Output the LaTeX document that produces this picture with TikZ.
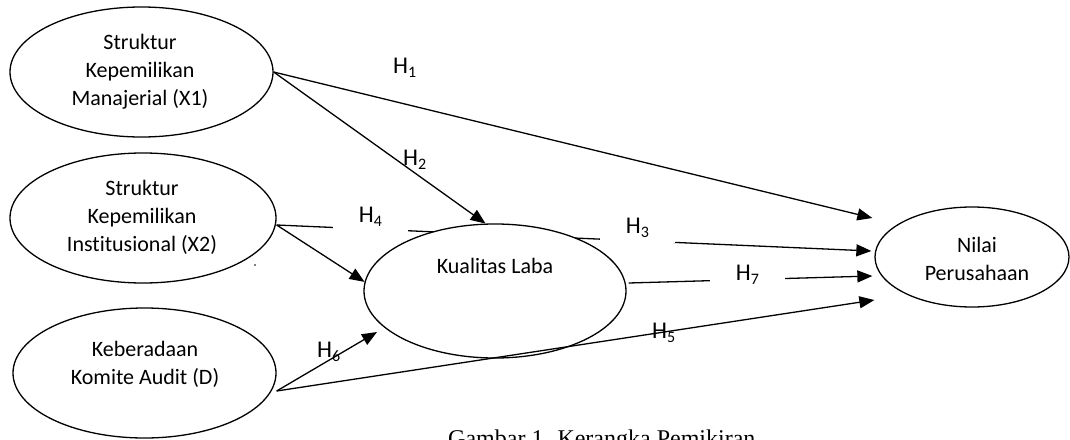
\documentclass[tikz,border=0pt]{standalone}
\usepackage{fontspec}
\setmainfont{Carlito}[Ligatures=NoCommon]
\newfontfamily\capfont{Liberation Serif}
\usetikzlibrary{shapes.geometric,arrows.meta}
\newcommand\hlab[1]{H\raisebox{-4pt}{\fontsize{16}{16}\selectfont #1}}
\tikzset{
  oval/.style={ellipse, draw, line width=1.3pt, inner sep=0pt},
  otext/.style={align=center, inner sep=0pt, font=\fontsize{22}{28}\selectfont},
  arr/.style={line width=1.3pt, -{Triangle[length=15pt,width=12pt]}},
  hl/.style={inner sep=0pt, font=\fontsize{24}{28}\selectfont},
  hlw/.style={fill=white, inner xsep=0pt, inner ysep=6pt, minimum width=75pt, font=\fontsize{24}{28}\selectfont},
}
\begin{document}
\begin{tikzpicture}[x=1pt,y=-1pt]
\useasboundingbox[fill=white] (0,0) rectangle (1070,439);
% ellipses
\node[oval, minimum width=263pt, minimum height=130pt] (x1) at (141.5,72) {};
\node[oval, minimum width=266pt, minimum height=130pt] (x2) at (143,218) {};
\node[oval, minimum width=263pt, minimum height=130pt] (d) at (144.5,373) {};
\node[oval, minimum width=194pt, minimum height=100pt] (nilai) at (972,257) {};
% texts
\node[otext] (x1t) at (140,72) {Struktur\\Kepemilikan\\Manajerial (X1)};
\node[otext] (x2t) at (142,217) {Struktur\\Kepemilikan\\Institusional (X2)};
\node[otext] (dt) at (145,364) {Keberadaan\\Komite Audit (D)};
\node[otext] (nt) at (977,259) {Nilai\\Perusahaan};
% X2 -> Nilai (behind Kualitas Laba)
\draw[arr] ([yshift=-7pt]x2.east) -- ([xshift=-3pt,yshift=6pt]nilai.west);
% Kualitas Laba
\node[oval, fill=white, minimum width=262pt, minimum height=134pt] (kl) at (495,291) {};
\node[otext, anchor=base] (klt) at (495,273) {Kualitas Laba};
% other arrows
\draw[arr] (x1.east) -- ([xshift=-2pt,yshift=39pt]nilai.west);
\draw[arr] (x1.east) -- (kl.98);
\draw[arr] ([yshift=-7pt]x2.east) -- (kl.176);
\draw[arr] ([xshift=2pt,yshift=8pt]kl.east) -- ([xshift=-2pt,yshift=-19pt]nilai.west);
\draw[arr] ([yshift=-18pt]d.east) -- ([xshift=-118pt,yshift=-41pt]kl.center);
\draw[arr] ([yshift=-18pt]d.east) -- ([yshift=-43pt]nilai.west);
% stray dot
\fill (255,265) circle (0.8pt);
% labels
\node[hl, anchor=base west] (h1) at (393,73) {\hlab{1}};
\node[hl, anchor=base west] (h2) at (403,165) {\hlab{2}};
\node[hlw, anchor=base] (h4) at (370.5,222) {\hlab{4}};
\node[hlw, anchor=base] (h3) at (637.5,233) {\hlab{3}};
\node[hlw, anchor=base] (h7) at (747.5,280) {\hlab{7}};
\node[hl, anchor=base west] (h5) at (652,338) {\hlab{5}};
\node[hl, anchor=base west] (h6) at (317,357) {\hlab{6}};
% caption
\node[anchor=base west, inner sep=0pt, font=\capfont\fontsize{24}{28}\selectfont] (cap) at (448,446) {Gambar 1. Kerangka Pemikiran};
\end{tikzpicture}
\end{document}
